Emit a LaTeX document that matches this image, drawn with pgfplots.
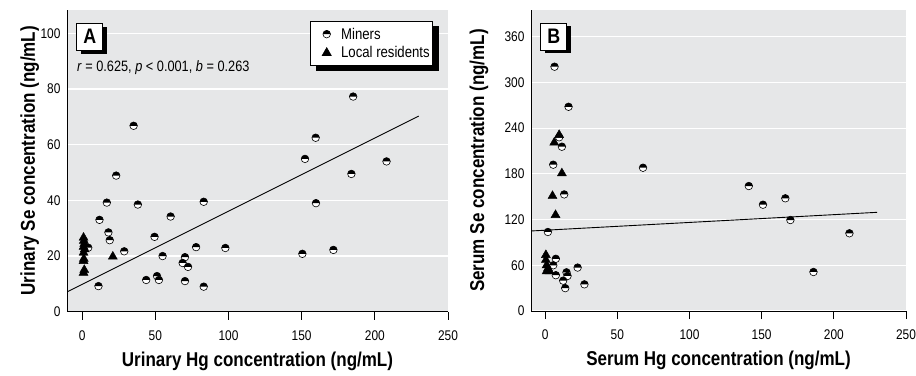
\documentclass[border=0pt]{standalone}
\usepackage{fontspec}
\setmainfont[FakeStretch=0.85]{Liberation Sans}
\usepackage{pgfplots}
\pgfplotsset{compat=1.18}
\usetikzlibrary{shadows,calc}
\definecolor{bggray}{HTML}{E6E7E8}
\newcommand\tickfont{\fontsize{14}{16}\selectfont}
\newcommand\labfont{\fontsize{20}{22}\selectfont\bfseries}
\newcommand\legfont{\fontsize{15.5}{17}\selectfont}
\newcommand\statfont{\fontsize{15}{17}\selectfont}
\newcommand\panelfont{\fontsize{21}{23}\selectfont\bfseries}

\pgfdeclareplotmark{halfc}{%
  \pgfpathcircle{\pgfpointorigin}{\pgfplotmarksize}%
  \pgfsetfillcolor{white}%
  \pgfusepathqfill
  \pgfpathmoveto{\pgfqpoint{\pgfplotmarksize}{0pt}}%
  \pgfpatharc{0}{180}{\pgfplotmarksize}%
  \pgfpathclose
  \pgfsetfillcolor{black}%
  \pgfusepathqfill
  \pgfpathcircle{\pgfpointorigin}{\pgfplotmarksize}%
  \pgfusepathqstroke
}

\tikzset{
  panelbox/.style={draw=black, fill=white, line width=0.8pt, minimum width=26pt, minimum height=27pt, inner sep=0pt, font=\panelfont,
    drop shadow={shadow xshift=4pt, shadow yshift=-3.5pt, fill=black, opacity=1}},
}
\pgfplotsset{
  panel/.style={
    scale only axis, anchor=south west,
    axis x line*=bottom, axis y line*=left,
    axis line style={black, line width=0.9pt, -},
    axis background/.style={fill=bggray},
    ymajorgrids, major grid style={white, line width=1.1pt},
    xtick={0,50,...,250}, xmax=250,
    tick align=outside, major tick length=8pt,
    xtick style={black, line width=0.9pt},
    ytick style={draw=none},
    tick label style={font=\tickfont},
    /pgf/number format/assume math mode=true,
    yticklabel style={xshift=5pt},
    xticklabel style={yshift=-7pt},
    xlabel style={font=\labfont, at={(axis description cs:0.5,-0.165)}, anchor=center},
    ylabel style={font=\labfont, anchor=center},
  },
  miner/.style={black, only marks, mark=halfc, mark size=3.8pt, mark options={line width=0.6pt}},
  resid/.style={black, only marks, mark=triangle*, mark size=5.2pt},
}

\begin{document}
\begin{tikzpicture}[x=1pt,y=1pt]
\useasboundingbox (0,0) rectangle (916,375);

% Panel A
\begin{axis}[panel,
  at={(67pt,63.3pt)}, width=381pt, height=302pt,
  xmin=-10.3, ymin=0, ymax=108.5,
  ytick={0,20,40,60,80,100},
  xlabel={Urinary Hg concentration (ng/mL)},
  ylabel={Urinary Se concentration (ng/mL)},
  ylabel style={at={(axis description cs:-0.098,0.5)}},
  legend image code/.code={\path (-15pt,0pt) (12pt,0pt); \draw[#1,mark options={line width=0.6pt}] plot coordinates {(0pt,0pt)};},
  legend style={name=legA, at={(0.961,0.963)}, anchor=north east, draw=black, line width=0.8pt, fill=white,
    font=\legfont, inner xsep=1pt, inner ysep=4.5pt, row sep=2pt, cells={anchor=west}},
]
\addplot[miner] coordinates {
(35.2,66.8) (185.2,77.3) (159.6,62.5) (152.3,54.9) (208,54) (184,49.5)
(23.3,48.9) (16.9,39.2) (38.1,38.5) (83.1,39.5) (159.8,39.0) (11.9,33.0)
(60.5,34.2) (18,28.5) (18.9,25.7) (49.5,26.9) (28.8,21.7) (4.2,23.0)
(77.9,23.2) (97.9,22.9) (150.5,20.8) (171.7,22.2) (55,20.0) (70.3,19.6)
(68.7,17.5) (72.4,16.1) (43.8,11.4) (51.2,12.8) (52.5,11.4) (70.3,11.0)
(11.2,9.2) (83.1,9.0)
};
\addlegendentry{Miners}
\addplot[resid] coordinates {
(1,26.6) (1.2,25.5) (1.5,24.4) (1,23.3) (1.8,22.4) (1,21.2) (1.2,19.0)
(1,18.2) (1.5,15.0) (1,14.0) (21,19.8)
};
\addlegendentry{Local residents}
\addplot[black, line width=0.9pt, no marks, forget plot] coordinates {(-10.3,7.1) (230,70.3)};
\node[panelbox] at (rel axis cs:0.060,0.911) {A};
\node[anchor=west, font=\statfont, inner sep=0pt] at (rel axis cs:0.026,0.807)
  {\textit{r} = 0.625, \textit{p} < 0.001, \textit{b} = 0.263};
\end{axis}
\fill[black] ($(legA.north east)+(0,-5pt)$) rectangle ($(legA.south east)+(6pt,-4.5pt)$);
\fill[black] ($(legA.south west)+(6pt,0pt)$) rectangle ($(legA.south east)+(6pt,-4.5pt)$);

% Panel B
\begin{axis}[panel,
  at={(531pt,64pt)}, width=375pt, height=301pt,
  xmin=-9.8, ymin=0, ymax=395,
  ytick={0,60,120,180,240,300,360},
  xlabel={Serum Hg concentration (ng/mL)},
  ylabel={Serum Se concentration (ng/mL)},
  ylabel style={at={(axis description cs:-0.139,0.5)}},
]
\addplot[miner] coordinates {
(6.5,320.6) (16.2,268) (9.7,228) (11.6,215.6) (5.6,192) (67.8,188)
(13.2,153) (141.1,164) (150.9,139.5) (166.4,147.9) (169.9,119.4) (210.8,102)
(185.9,51.2) (1.9,103.7) (7.4,68.5) (22.5,57) (14.8,50.8) (15.5,46)
(12.5,39.8) (13.9,30) (27.2,35) (7.4,47) (5.6,60)
};
\addplot[resid] coordinates {
(9.7,231) (6.3,221) (11.6,180.7) (5.1,151) (7.2,126)
(0.5,73.5) (0.5,67) (1,60) (1,52) (3,52) (2,56)
};
\addplot[black, line width=0.9pt, no marks] coordinates {(-9.8,105) (230,129.5)};
\node[panelbox] at (rel axis cs:0.061,0.912) {B};
\end{axis}
\end{tikzpicture}
\end{document}
